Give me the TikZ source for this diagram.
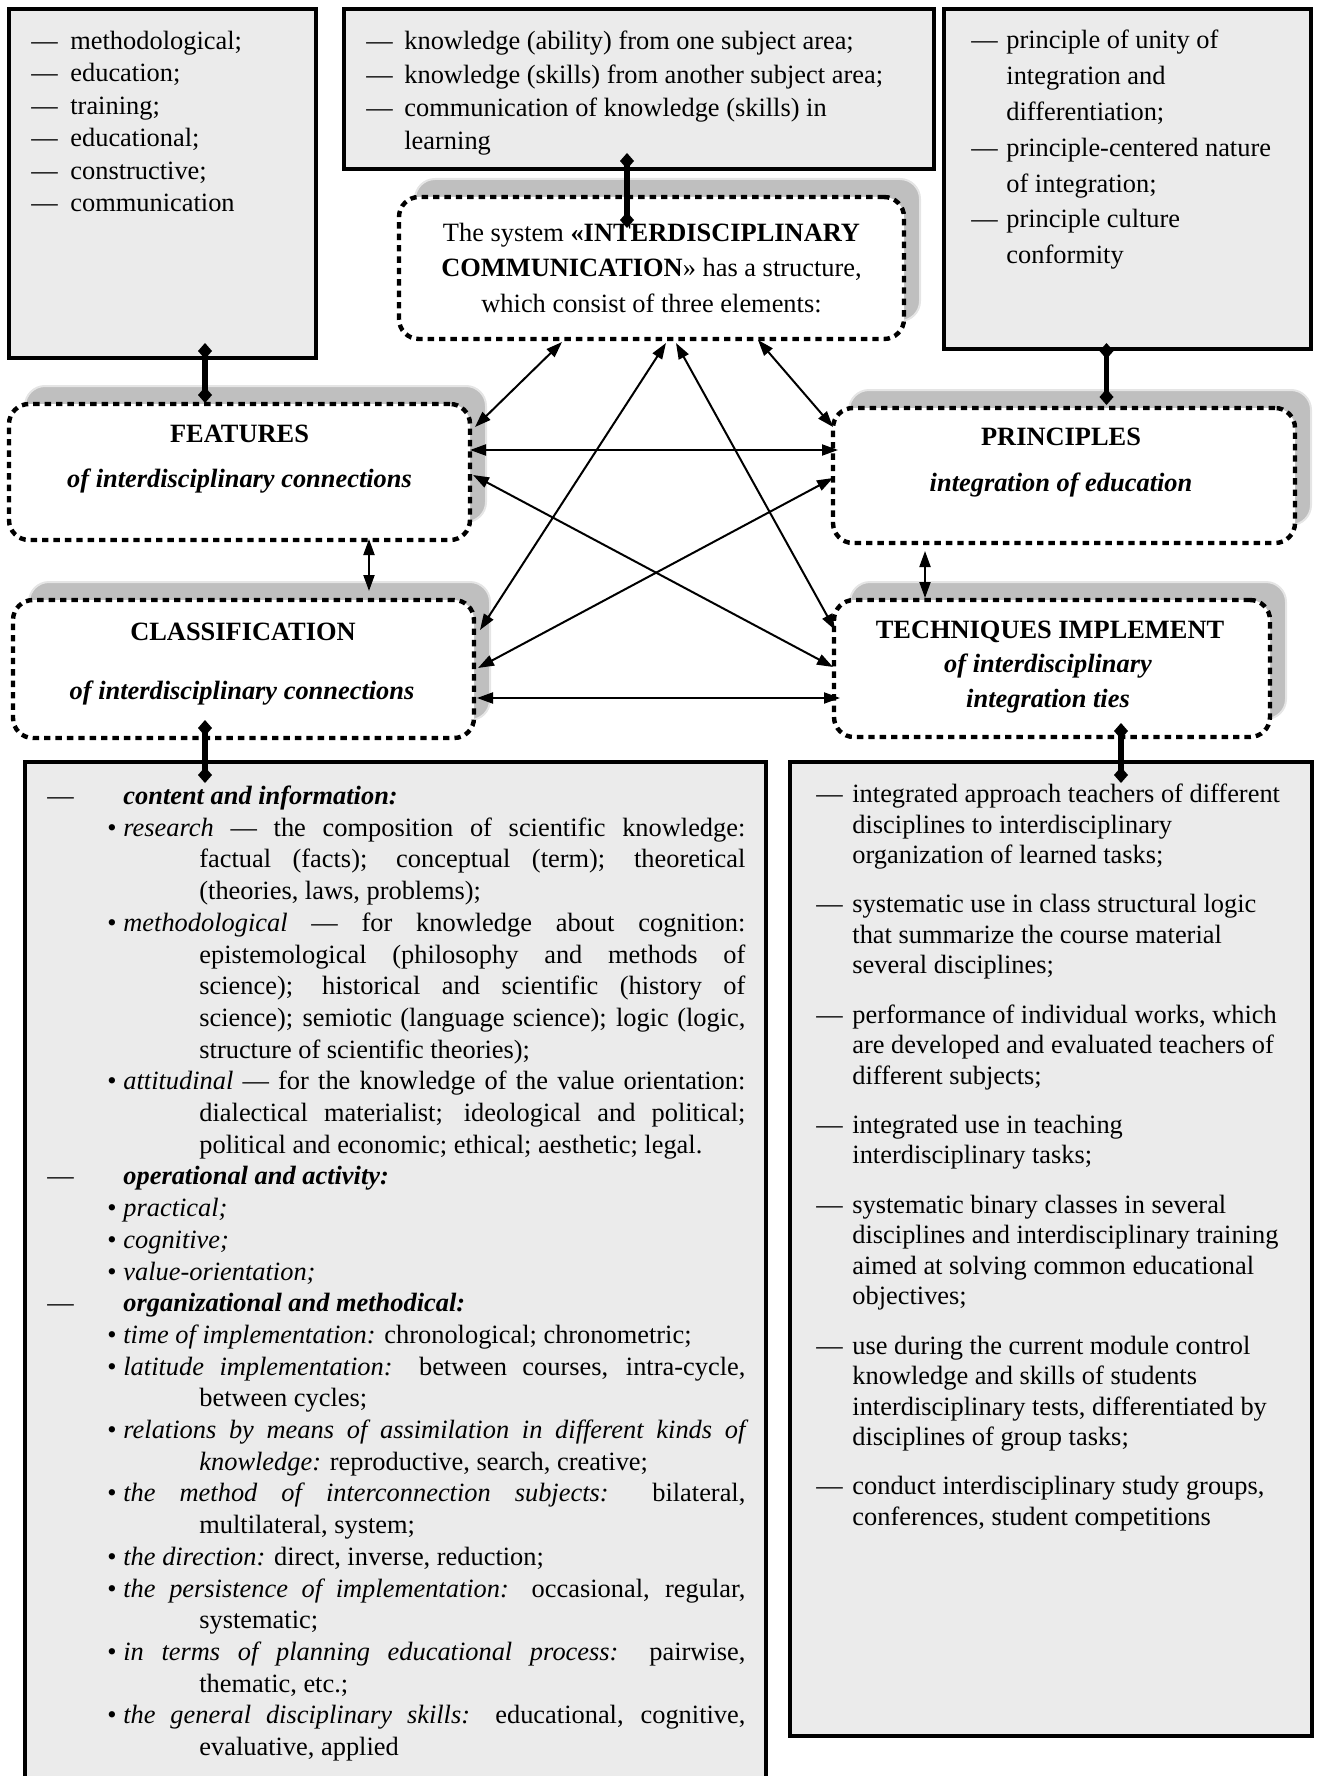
\documentclass[tikz,border=0pt]{standalone}
\usepackage{fontspec}
\setmainfont{Liberation Serif}
\usetikzlibrary{arrows.meta}

\begin{document}
\begin{tikzpicture}[x = 0.5pt, y = -0.5pt,
	every node/.style = {font = \fontsize{13.2}{15.75}\selectfont},
	listbox/.style = {draw, line width = 1.7pt, fill = black!8, anchor = north west, inner sep = 0pt, outer sep = 0pt},
	stagebox/.style = {draw, line width = 2.2pt, dash pattern = on 3.2pt off 2.5pt, rounded corners = 10pt, fill = white, anchor = north west, inner sep = 0pt, outer sep = 0pt,
		preaction = {fill = black!25, draw = black!10, line width = 1pt, solid, transform canvas = {shift = {(8pt,9pt)}}}},
	txt/.style = {anchor = base west, inner sep = 0pt},
	ttl/.style = {anchor = base, inner sep = 0pt, font = \fontsize{13.2}{15.75}\selectfont\bfseries},
	link/.style = {line width = 2.6pt, {Diamond[length = 8pt, width = 7pt]}-{Diamond[length = 8pt, width = 7pt]}},
	arr/.style = {line width = 1pt, {Triangle[length = 8pt, width = 5.5pt]}-{Triangle[length = 8pt, width = 5.5pt]}},
]
\useasboundingbox (0,0) rectangle (1319,1776);

\def\bul{\par\hangindent = 76pt\hangafter = 1\hspace*{30pt}\makebox[8pt][l]{\textbullet}}
\def\hd#1{\par\makebox[38pt][l]{—}\textbf{\textit{#1}}}
\def\dsh{\par\hangindent = 18pt\hangafter = 1\makebox[18pt][l]{—}}
\def\nl{\hfil\break}

\node[listbox, minimum width = 153.5pt, minimum height = 174.5pt] (kinds) at (9,9) {};
\node[listbox, minimum width = 295pt, minimum height = 80pt] (comps) at (344,9) {};
\node[listbox, minimum width = 183.5pt, minimum height = 170pt] (plist) at (944,9) {};
\node[listbox, minimum width = 370.5pt, minimum height = 520pt] (clist) at (25,762) {};
\node[listbox, minimum width = 261pt, minimum height = 487pt] (tlist) at (790,762) {};

\node[stagebox, minimum width = 252.5pt, minimum height = 71pt, align = center, font = \fontsize{13.2}{17.75}\selectfont] (sys) at (399,197)
	{The system \textbf{«INTERDISCIPLINARY}\\ \textbf{COMMUNICATION}» has a structure,\\ which consist of three elements:};
\node[stagebox, minimum width = 230.5pt, minimum height = 68pt] (feat) at (9,404) {};
\node[stagebox, minimum width = 230.5pt, minimum height = 69pt] (clas) at (13,600) {};
\node[stagebox, minimum width = 231pt, minimum height = 67.5pt] (prin) at (833,408) {};
\node[stagebox, minimum width = 218pt, minimum height = 68.5pt] (tech) at (834,600) {};

\node[ttl] (feathead) at (239.5,442) {FEATURES};
\node[ttl] (featsub) at (239.5,487) {\itshape of interdisciplinary connections};
\node[ttl] (clashead) at (243,640) {CLASSIFICATION};
\node[ttl] (classub) at (242,699) {\itshape of interdisciplinary connections};
\node[ttl] (prinhead) at (1061,445) {PRINCIPLES};
\node[ttl] (prinsub) at (1061,491) {\itshape integration of education};
\node[ttl] (techhead) at (1050,638) {TECHNIQUES IMPLEMENT};
\node[ttl] (techsub) at (1048,672) {\itshape of interdisciplinary};
\node[ttl] (techsubb) at (1048,707) {\itshape integration ties};

\foreach \w [count = \i] in {methodological;, education;, training;, educational;, constructive;, communication}
	{
		\node[txt] (kind\i) at (31, {49.5 + 32.5*(\i - 1)}) {\makebox[19.5pt][l]{—}\w};
	}

\node[txt] (compstext) at (366,50) {\parbox[t]{280pt}{\baselineskip = 16.6pt\relax
	\makebox[19pt][l]{—}knowledge (ability) from one subject area;\\
	\makebox[19pt][l]{—}knowledge (skills) from another subject area;\\
	\makebox[19pt][l]{—}communication of knowledge (skills) in\\
	\hspace*{19pt}learning}};

\node[txt] (plisttext) at (971,49) {\parbox[t]{170pt}{\baselineskip = 17.9pt\relax
	\makebox[17.5pt][l]{—}principle of unity of\\
	\hspace*{17.5pt}integration and\\
	\hspace*{17.5pt}differentiation;\\
	\makebox[17.5pt][l]{—}principle-centered nature\\
	\hspace*{17.5pt}of integration;\\
	\makebox[17.5pt][l]{—}principle culture\\
	\hspace*{17.5pt}conformity}};

\node[txt] (clisttext) at (47,804.5) {\parbox[t]{349pt}{\baselineskip = 15.85pt\tolerance = 10000\hbadness = 10000\hyphenpenalty = 10000\relax
	\hd{content and information:}
	\bul\textit{research} — the composition of scientific knowledge:\linebreak factual (facts); conceptual (term); theoretical\linebreak (theories, laws, problems);
	\bul\textit{methodological} — for knowledge about cognition:\linebreak epistemological (philosophy and methods of\linebreak science); historical and scientific (history of\linebreak science); semiotic (language science); logic (logic,\linebreak structure of scientific theories);
	\bul\textit{attitudinal} — for the knowledge of the value orientation:\linebreak dialectical materialist; ideological and political;\linebreak political and economic; ethical; aesthetic; legal.
	\hd{operational and activity:}
	\bul\textit{practical;}
	\bul\textit{cognitive;}
	\bul\textit{value-orientation;}
	\hd{organizational and methodical:}
	\bul\textit{time of implementation:} chronological; chronometric;
	\bul\textit{latitude implementation:} between courses, intra-cycle,\linebreak between cycles;
	\bul\textit{relations by means of assimilation in different kinds of\linebreak knowledge:} reproductive, search, creative;
	\bul\textit{the method of interconnection subjects:} bilateral,\linebreak multilateral, system;
	\bul\textit{the direction:} direct, inverse, reduction;
	\bul\textit{the persistence of implementation:} occasional, regular,\linebreak systematic;
	\bul\textit{in terms of planning educational process:} pairwise,\linebreak thematic, etc.;
	\bul\textit{the general disciplinary skills:} educational, cognitive,\linebreak evaluative, applied}};

\node[txt] (tlisttext) at (816,802.5) {\parbox[t]{250pt}{\baselineskip = 15.25pt\parskip = 9.4pt\relax
	\dsh integrated approach teachers of different\nl disciplines to interdisciplinary\nl organization of learned tasks;
	\dsh systematic use in class structural logic\nl that summarize the course material\nl several disciplines;
	\dsh performance of individual works, which\nl are developed and evaluated teachers of\nl different subjects;
	\dsh integrated use in teaching\nl interdisciplinary tasks;
	\dsh systematic binary classes in several\nl disciplines and interdisciplinary training\nl aimed at solving common educational\nl objectives;
	\dsh use during the current module control\nl knowledge and skills of students\nl interdisciplinary tests, differentiated by\nl disciplines of group tasks;
	\dsh conduct interdisciplinary study groups,\nl conferences, student competitions}};

\draw[link] ([shift = {(21.25pt,7.5pt)}]kinds.south) -- ([shift = {(-17.25pt,0.5pt)}]feat.north);
\draw[link] ([shift = {(-6pt,8pt)}]comps.south) -- ([shift = {(-12.25pt,-15.5pt)}]sys.north);
\draw[link] ([shift = {(-10.5pt,3pt)}]plist.south) -- ([shift = {(21.25pt,1.5pt)}]prin.north);
\draw[link] ([shift = {(-19.25pt,9pt)}]clas.south) -- ([shift = {(-95.25pt,-10.5pt)}]clist.north);
\draw[link] ([shift = {(34.5pt,7pt)}]tech.south) -- ([shift = {(35pt,-10.5pt)}]tlist.north);

\draw[arr] ([shift = {(64.75pt,0.5pt)}]feat.south) -- ([shift = {(62.75pt,4.5pt)}]clas.north);
\draw[arr] ([shift = {(-69.5pt,-4pt)}]prin.south) -- ([shift = {(-63.5pt,1pt)}]tech.north);

\draw[arr] ([shift = {(-44.75pt,-1.5pt)}]sys.south) -- ([shift = {(2.5pt,-11.5pt)}]feat.north east);
\draw[arr] ([shift = {(53.25pt,-0.5pt)}]sys.south) -- ([shift = {(0pt,-9.5pt)}]prin.north west);
\draw[arr] ([shift = {(7.25pt,-2pt)}]sys.south) -- ([shift = {(3pt,-15pt)}]clas.north east);
\draw[arr] ([shift = {(12.25pt,-2pt)}]sys.south) -- ([shift = {(0.5pt,-15pt)}]tech.north west);
\draw[arr] ([shift = {(0pt,11pt)}]feat.east) -- ([shift = {(2.5pt,12.75pt)}]prin.west);
\draw[arr] ([shift = {(1.5pt,-1.5pt)}]feat.east) -- ([shift = {(-0.5pt,0.75pt)}]tech.west);
\draw[arr] ([shift = {(2pt,0.5pt)}]clas.east) -- ([shift = {(0pt,-1.25pt)}]prin.west);
\draw[arr] ([shift = {(1.5pt,-14.5pt)}]clas.east) -- ([shift = {(3pt,-14.75pt)}]tech.west);

\end{tikzpicture}
\end{document}
